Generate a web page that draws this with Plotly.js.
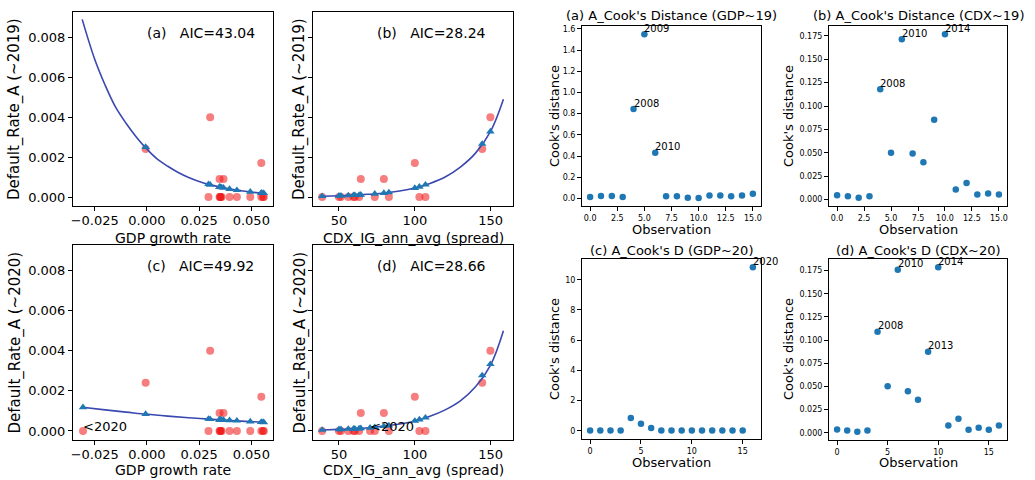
<!DOCTYPE html>
<html>
<head>
<meta charset="utf-8">
<script src="https://cdn.plot.ly/plotly-3.0.1.min.js"></script>
<style>html,body{margin:0;padding:0;background:#fff;}#chart{width:1035px;height:480px;}</style>
</head>
<body>
<div id="chart"></div>
<script>
// ---------- data ----------
const years = [2004,2005,2006,2007,2008,2009,2010,2011,2012,2013,2014,2015,2016,2017,2018,2019,2020];
const gdpGrowth = [0.0431,0.0396,0.0495,0.0548,0.0303,-0.0006,0.0548,0.0295,0.0352,0.0367,0.0348,0.0358,0.0348,0.0556,0.0560,0.0352,-0.0306];
const cdxSpread = [50.0,51.3,38.9,56.2,149.8,144.4,100.0,103.0,107.0,79.6,64.4,82.9,73.6,59.6,63.3,60.5,70.5];
const defaultRateA = [0,0,0,0,0.0040,0.0024,0.0017,0,0,0.0009,0.0009,0,0,0,0,0,0];

// fitted values (triangles)
const fitGdp19 = [0.00034,0.00040,0.00026,0.00020,0.00061,0.00250,0.00020,0.00064,0.00049,0.00046,0.00050,0.00048,0.00050,0.00019,0.00019,0.00049];
const fitCdx19 = [0.000062,0.000065,0.000040,0.000079,0.00328,0.00266,0.00045,0.00051,0.00062,0.00020,0.00011,0.00023,0.00016,0.00009,0.00010,0.000094];
const fitGdp20 = [0.00051,0.00053,0.00047,0.00044,0.00059,0.00084,0.00044,0.00060,0.00055,0.00055,0.00056,0.00055,0.00056,0.00044,0.00043,0.00055,0.00118];
const fitCdx20 = [0.00008,0.00008,0.00005,0.00010,0.00333,0.00277,0.00050,0.00057,0.00066,0.00024,0.00013,0.00027,0.00019,0.00011,0.00012,0.00011,0.00016];

// fitted curves
const curveGdpX   = [-0.031,-0.025,-0.020,-0.015,-0.010,-0.005,0.000,0.005,0.010,0.015,0.020,0.025,0.030,0.035,0.040,0.045,0.050,0.056];
const curveGdp19Y = [0.0089,0.0069,0.0056,0.0045,0.0037,0.0030,0.0024,0.0019,0.00154,0.00123,0.00098,0.00078,0.00062,0.00050,0.00040,0.00032,0.00025,0.00019];
const curveGdp20X = [-0.031,-0.020,-0.010,0.000,0.010,0.020,0.030,0.040,0.050,0.056];
const curveGdp20Y = [0.00118,0.00105,0.00094,0.00083,0.00074,0.00066,0.00059,0.00052,0.00047,0.00043];
const curveCdxX   = [38.9,50,60,70,80,90,100,110,120,130,140,150,158.4];
const curveCdx19Y = [0.00004,0.00006,0.00009,0.00014,0.00020,0.00030,0.00045,0.00068,0.00100,0.00150,0.00220,0.00330,0.00490];
const curveCdx20Y = [0.00005,0.00008,0.00011,0.00016,0.00024,0.00035,0.00050,0.00073,0.00105,0.00150,0.00220,0.00330,0.00500];

const aicLabels = ["(a)   AIC=43.04","(b)   AIC=28.24","(c)   AIC=49.92","(d)   AIC=28.66"];

// Cook's distance
const obs19 = [0,1,2,3,4,5,6,7,8,9,10,11,12,13,14,15];
const obs20 = [0,1,2,3,4,5,6,7,8,9,10,11,12,13,14,15,16];
const cookGdp19 = [0.0125,0.022,0.022,0.0125,0.844,1.55,0.43,0.019,0.019,0.006,0.003,0.028,0.028,0.019,0.028,0.044];
const cookCdx19 = [0.0046,0.0035,0.0018,0.0035,0.1179,0.050,0.1715,0.0493,0.0398,0.0852,0.1768,0.0106,0.0177,0.0053,0.0064,0.0053];
const cookGdp20 = [0.02,0.02,0.02,0.02,0.84,0.46,0.18,0.01,0.01,0.01,0.01,0.01,0.01,0.01,0.01,0.01,10.82];
const cookCdx20 = [0.0036,0.0025,0.0011,0.0025,0.109,0.0502,0.176,0.0447,0.0357,0.0873,0.1786,0.0079,0.0152,0.0032,0.0054,0.0032,0.0079];
const cookTitles = ["(a) A_Cook's Distance (GDP~19)","(b) A_Cook's Distance (CDX~19)","(c) A_Cook's D (GDP~20)","(d) A_Cook's D (CDX~20)"];
const cookLabelIdx = [[4,5,6],[4,6,10],[16],[4,6,10,9]];

// ---------- styling ----------
const FONT = "DejaVu Sans, sans-serif";
const W = 1035, H = 480;
const RED = "rgba(238,20,20,0.55)";
const TRI = "#1f77b4";
const LINE = "rgb(58,72,175)";

function px2x(p){ return p / W; }
function py2y(p){ return 1 - p / H; }

// panel boxes in pixels [left, top, right, bottom]
const boxes = {
  1:[73,12,273,206], 2:[313,12,512.7,206], 3:[73,245,273,440], 4:[313,245,512.7,440],
  5:[582,26,761,206], 6:[829,26,1007,206], 7:[582,259,761,439], 8:[829,259,1007,440]
};

function axisBase(){
  return {showline:true, mirror:true, linecolor:"#000", linewidth:1, ticks:"outside", ticklen:4,
          tickwidth:1, tickcolor:"#000", showgrid:false, zeroline:false, automargin:false,
          tickfont:{family:FONT, size:13, color:"#000"}};
}

const layout = {
  width:W, height:H, margin:{l:0,r:0,t:0,b:0}, paper_bgcolor:"#fff", plot_bgcolor:"#fff",
  showlegend:false, font:{family:FONT, color:"#000"}, annotations:[]
};

const yLeftRange = [-0.00045, 0.00927];
const yLeftTicks = [0,0.002,0.004,0.006,0.008];
for (let i=1;i<=8;i++){
  const b = boxes[i];
  const xa = axisBase(), ya = axisBase();
  xa.domain = [px2x(b[0]), px2x(b[2])];
  ya.domain = [py2y(b[3]), py2y(b[1])];
  xa.anchor = "y"+(i===1?"":i); ya.anchor = "x"+(i===1?"":i);
  if (i<=4){
    ya.range = yLeftRange; ya.tickvals = yLeftTicks; ya.tickformat = ".3f";
    ya.showticklabels = (i===1 || i===3);
    xa.ticklabelstandoff = -2;
    if (i===1 || i===3){ xa.range=[-0.0354,0.0604]; xa.tickvals=[-0.025,0,0.025,0.05]; xa.tickformat=".3f"; }
    else { xa.range=[32.9,164.5]; xa.tickvals=[50,100,150]; }
  } else {
    xa.tickfont = {family:FONT,size:8,color:"#000"}; ya.tickfont = {family:FONT,size:8,color:"#000"};
    if (i===5||i===6){ xa.range=[-0.75,15.75]; xa.tickvals=[0,2.5,5,7.5,10,12.5,15]; xa.tickformat=".1f"; }
    else { xa.range=[-0.8,16.8]; xa.tickvals=[0,5,10,15]; }
    if (i===5){ ya.range=[-0.072,1.628]; ya.tickvals=[0,0.2,0.4,0.6,0.8,1.0,1.2,1.4,1.6]; ya.tickformat=".1f"; }
    if (i===6){ ya.range=[-0.0070,0.1856]; ya.tickvals=[0,0.025,0.05,0.075,0.1,0.125,0.15,0.175]; ya.tickformat=".3f"; }
    if (i===7){ ya.range=[-0.55,11.37]; ya.tickvals=[0,2,4,6,8,10]; }
    if (i===8){ ya.range=[-0.0078,0.1875]; ya.tickvals=[0,0.025,0.05,0.075,0.1,0.125,0.15,0.175]; ya.tickformat=".3f"; }
  }
  layout["xaxis"+(i===1?"":i)] = xa;
  layout["yaxis"+(i===1?"":i)] = ya;
}

const traces = [];
function ax(i){ return {x:"x"+(i===1?"":i), y:"y"+(i===1?"":i)}; }
function addPanel(i, xs, ys, fit, cx, cy){
  const a = ax(i);
  traces.push({type:"scatter", mode:"markers", x:xs, y:ys, xaxis:a.x, yaxis:a.y,
    marker:{color:RED, size:8, line:{width:0}}, cliponaxis:false});
  traces.push({type:"scatter", mode:"lines", x:cx, y:cy, xaxis:a.x, yaxis:a.y,
    line:{color:LINE, width:1.6, shape:"spline"}});
  traces.push({type:"scatter", mode:"markers", x:xs, y:fit, xaxis:a.x, yaxis:a.y,
    marker:{color:TRI, size:7.5, symbol:"triangle-up", line:{width:0}}});
}
const n19 = 16;
addPanel(1, gdpGrowth.slice(0,n19), defaultRateA.slice(0,n19), fitGdp19, curveGdpX, curveGdp19Y);
addPanel(2, cdxSpread.slice(0,n19), defaultRateA.slice(0,n19), fitCdx19, curveCdxX, curveCdx19Y);
addPanel(3, gdpGrowth, defaultRateA, fitGdp20, curveGdp20X, curveGdp20Y);
addPanel(4, cdxSpread, defaultRateA, fitCdx20, curveCdxX, curveCdx20Y);

const cookSets = [[obs19,cookGdp19],[obs19,cookCdx19],[obs20,cookGdp20],[obs20,cookCdx20]];
cookSets.forEach((s,k)=>{
  const a = ax(5+k);
  traces.push({type:"scatter", mode:"markers", x:s[0], y:s[1], xaxis:a.x, yaxis:a.y,
    marker:{color:TRI, size:6.5, line:{width:0}}, cliponaxis:false});
  cookLabelIdx[k].forEach(idx=>{
    layout.annotations.push({xref:a.x, yref:a.y, x:s[0][idx], y:s[1][idx], text:String(years[idx]),
      showarrow:false, xanchor:"left", yanchor:"middle", xshift:-2, yshift:6,
      font:{family:FONT,size:10,color:"#000"}});
  });
});

// AIC labels
[[1,0],[2,75],[3,0],[4,75]].forEach((p,k)=>{
  const a = ax(p[0]);
  layout.annotations.push({xref:a.x, yref:a.y, x:p[1], y:0.008, text:aicLabels[k], showarrow:false,
    xanchor:"left", yanchor:"middle", xshift:-2, yshift:4, font:{family:FONT,size:14,color:"#000"}});
});
// "<2020" labels
[[3,gdpGrowth[16]],[4,cdxSpread[16]]].forEach(p=>{
  const a = ax(p[0]);
  layout.annotations.push({xref:a.x, yref:a.y, x:p[1], y:defaultRateA[16], text:"&lt;2020", showarrow:false,
    xanchor:"left", yanchor:"middle", xshift:-2, yshift:4.5, font:{family:FONT,size:13,color:"#000"}});
});

function paperText(text, xp, yp, size, angle){
  layout.annotations.push({xref:"paper", yref:"paper", x:px2x(xp), y:py2y(yp), text:text, showarrow:false,
    xanchor:"center", yanchor:"middle", textangle:angle||0, font:{family:FONT,size:size,color:"#000"}});
}
// axis titles (left block)
paperText("GDP growth rate", 173, 238, 14);
paperText("CDX_IG_ann_avg (spread)", 413, 238, 14);
paperText("GDP growth rate", 173, 470, 14);
paperText("CDX_IG_ann_avg (spread)", 413, 470, 14);
paperText("Default_Rate_A (~2019)", 15, 109, 15, -90);
paperText("Default_Rate_A (~2019)", 300, 109, 15, -90);
paperText("Default_Rate_A (~2020)", 15, 342.5, 15, -90);
paperText("Default_Rate_A (~2020)", 300, 342.5, 15, -90);
// Cook's panels titles and axis titles
paperText(cookTitles[0], 671.5, 16, 13);
paperText(cookTitles[1], 918, 16, 13);
paperText(cookTitles[2], 671.5, 250, 13);
paperText(cookTitles[3], 918, 250, 13);
paperText("Observation", 671.5, 229, 13);
paperText("Observation", 918, 229, 13);
paperText("Observation", 671.5, 462, 13);
paperText("Observation", 918, 462, 13);
paperText("Cook's distance", 554, 116, 13, -90);
paperText("Cook's distance", 788, 116, 13, -90);
paperText("Cook's distance", 554, 349, 13, -90);
paperText("Cook's distance", 788, 349, 13, -90);

Plotly.newPlot("chart", traces, layout, {staticPlot:true, displayModeBar:false});
</script>
</body>
</html>
